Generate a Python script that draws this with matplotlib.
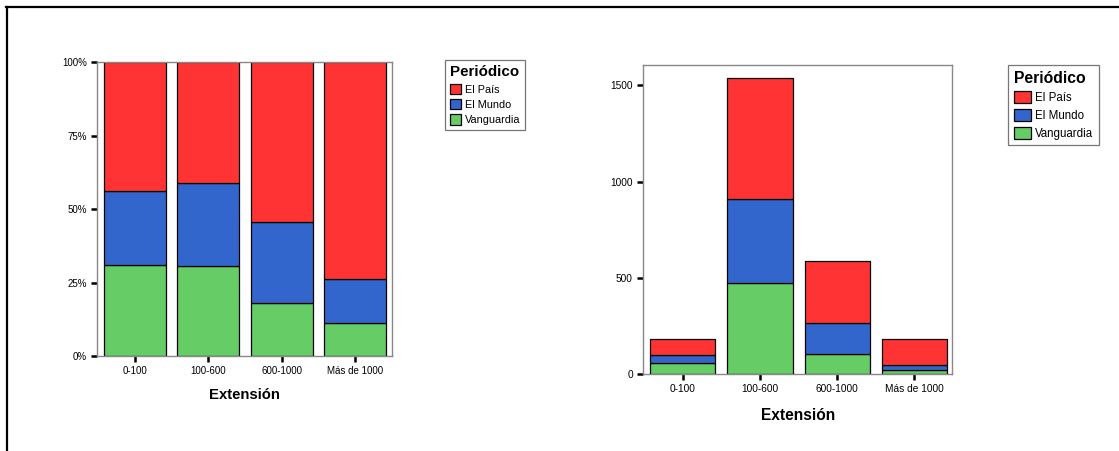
import matplotlib
matplotlib.use("Agg")
import matplotlib.pyplot as plt
from matplotlib.lines import Line2D
from matplotlib.patches import Patch
from matplotlib.ticker import FuncFormatter

plt.rcParams['font.family'] = ['Liberation Sans', 'DejaVu Sans']

# Counts per extension group
categories = ["0-100", "100-600", "600-1000", "Más de 1000"]
vanguardia = [56, 472, 105, 21]
el_mundo = [45, 438, 162, 27]
el_pais = [79, 631, 318, 136]

series_names = ["El País", "El Mundo", "Vanguardia"]
colors = {"Vanguardia": "#66CC66", "El Mundo": "#3366CC", "El País": "#FF3333"}

fig = plt.figure(figsize=(11.19, 4.51), dpi=100)

ax1 = fig.add_axes([0.0870, 0.2106, 0.2634, 0.6512])
ax2 = fig.add_axes([0.5749, 0.1707, 0.2761, 0.6851])

x = list(range(len(categories)))
totals = [a + b + c for a, b, c in zip(vanguardia, el_mundo, el_pais)]


def stack(ax, parts, width):
    bottom = [0] * len(categories)
    for name, vals in parts:
        ax.bar(x, vals, width, bottom=bottom, color=colors[name],
               edgecolor="black", linewidth=0.9, zorder=2)
        bottom = [b + v for b, v in zip(bottom, vals)]


# percentage chart
pct = lambda vals: [v / t for v, t in zip(vals, totals)]
stack(ax1, [("Vanguardia", pct(vanguardia)), ("El Mundo", pct(el_mundo)),
            ("El País", pct(el_pais))], 0.845)
ax1.set_xlim(-0.51, 3.5)
ax1.set_ylim(0, 1)
ax1.set_yticks([0, 0.25, 0.5, 0.75, 1.0])
ax1.yaxis.set_major_formatter(FuncFormatter(lambda v, p: f"{v*100:.0f}%"))

# count chart
stack(ax2, [("Vanguardia", vanguardia), ("El Mundo", el_mundo),
            ("El País", el_pais)], 0.845)
ax2.set_xlim(-0.51, 3.49)
ax2.set_ylim(0, 1606)
ax2.set_yticks([0, 500, 1000, 1500])

for ax, fs, lfs, pad in [(ax1, 7.0, 10.7, 8.5), (ax2, 7.3, 11.2, 10)]:
    ax.set_xticks(x)
    ax.set_xticklabels(categories)
    ax.tick_params(axis="both", length=4.5, width=1.8, color="black",
                   labelsize=fs, pad=3, direction="out")
    for s in ax.spines.values():
        s.set_color("#888888")
        s.set_linewidth(1.0)
    ax.set_xlabel("Extensión", fontsize=lfs, fontweight="bold", labelpad=pad)

handles = [Patch(facecolor=colors[n], edgecolor="black", linewidth=0.9)
           for n in series_names]

legend_opts = [
    (ax1, (0.3977, 0.8670), 10.9, 7.8, 1.0, 1.1, 0.4),
    (ax2, (0.9011, 0.8559), 11.3, 8.3, 1.5, 1.2, 0.45),
]
for ax, anchor, tfs, efs, hl, hh, ls in legend_opts:
    leg = ax.legend(handles, series_names, title="Periódico", loc="upper left",
                    bbox_to_anchor=anchor, bbox_transform=fig.transFigure,
                    borderaxespad=0, fontsize=efs, title_fontsize=tfs,
                    fancybox=False, framealpha=1, edgecolor="#777777",
                    handlelength=hl, handleheight=hh, handletextpad=0.3,
                    labelspacing=ls, borderpad=0.5, alignment="left")
    leg.get_title().set_fontweight("bold")
    leg.get_frame().set_linewidth(0.9)

# outer frame lines
fig.add_artist(Line2D([6 / 1119, 1], [1 - 7 / 451, 1 - 7 / 451],
                      transform=fig.transFigure, color="black", linewidth=1.6))
fig.add_artist(Line2D([6.5 / 1119, 6.5 / 1119], [0, 1 - 7 / 451],
                      transform=fig.transFigure, color="black", linewidth=1.6))

fig.savefig("out.png", dpi=100)
